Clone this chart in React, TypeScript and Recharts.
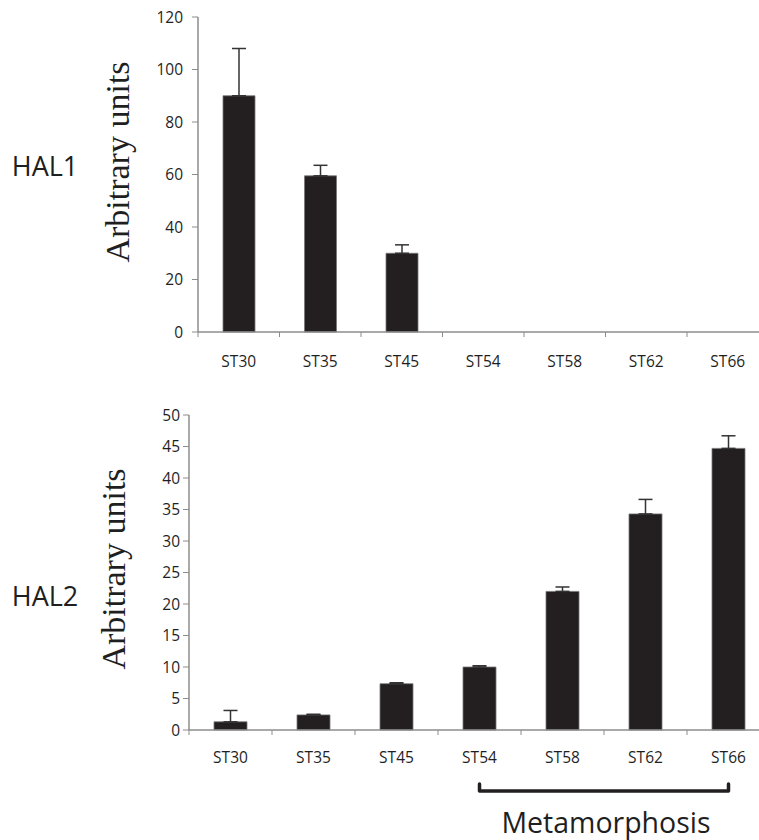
import React from 'react';
import { BarChart, Bar, XAxis, YAxis, ErrorBar } from 'recharts';

const stages = ['ST30', 'ST35', 'ST45', 'ST54', 'ST58', 'ST62', 'ST66'];
const hal1Values = [90, 59.5, 30, 0, 0, 0, 0];
const hal1Errors = [18, 4, 3.2, 0, 0, 0, 0];
const hal2Values = [1.3, 2.4, 7.35, 10, 22, 34.3, 44.7];
const hal2Errors = [1.8, 0.1, 0.15, 0.2, 0.7, 2.3, 2.0];
const hal1Ticks = [0, 20, 40, 60, 80, 100, 120];
const hal2Ticks = [0, 5, 10, 15, 20, 25, 30, 35, 40, 45, 50];

const hal1Data = stages.map((stage, i) => ({
  stage,
  value: hal1Values[i],
  err: hal1Values[i] > 0 ? [0, hal1Errors[i]] : null,
}));
const hal2Data = stages.map((stage, i) => ({
  stage,
  value: hal2Values[i],
  err: [0, hal2Errors[i]],
}));

const TICK_FONT = '"Open Sans", sans-serif';
const AXIS_GRAY = '#8c8c8c';
const TEXT = '#1f1f1f';
const BAR = '#231f20';

// category tick: label in the middle, tick mark at the left boundary of the band
const makeTick = (step: number, labelOffset: number) => (props: any) => {
  const { x, y, payload, index } = props;
  return (
    <g>
      <line x1={x - step / 2} x2={x - step / 2} y1={y} y2={y + 5} stroke={AXIS_GRAY} />
      {index === stages.length - 1 && (
        <line x1={x + step / 2} x2={x + step / 2} y1={y} y2={y + 5} stroke={AXIS_GRAY} />
      )}
      <text x={x} y={y + labelOffset} textAnchor="middle" dominantBaseline="central"
        fontSize={15.5} fontFamily={TICK_FONT} fill={TEXT}>
        {payload.value}
      </text>
    </g>
  );
};

const CHART_W = 780;

// top chart layout
const T = { plotLeft: 198, plotTop: 17, plotBottom: 332, step: 81.5, height: 380 };
// bottom chart layout (chart box starts at y=390)
const B = { top: 390, plotLeft: 189, plotTop: 415, plotBottom: 730, step: 83, height: 380 };

const App = () => {
  const tRight = CHART_W - (T.plotLeft + T.step * 7);
  const bRight = CHART_W - (B.plotLeft + B.step * 7);
  const b54 = B.plotLeft + B.step * 3.5;
  const b66 = B.plotLeft + B.step * 6.5;

  return (
    <div style={{ position: 'absolute', left: 0, top: 0, width: 759, height: 840, overflow: 'hidden', background: '#fff' }}>
      <div style={{ position: 'absolute', left: 0, top: 0 }}>
        <BarChart width={CHART_W} height={T.height} data={hal1Data}
          margin={{ top: T.plotTop, right: tRight, left: T.plotLeft - 60, bottom: T.height - T.plotBottom - 40 }}>
          <XAxis dataKey="stage" height={40} axisLine={{ stroke: AXIS_GRAY, strokeWidth: 1.5 }}
            tickLine={false} tickSize={0} tickMargin={0} interval={0} tick={makeTick(T.step, 29)} />
          <YAxis width={60} domain={[0, 120]} ticks={hal1Ticks} interval={0}
            axisLine={{ stroke: AXIS_GRAY, strokeWidth: 1.5 }} tickLine={{ stroke: AXIS_GRAY }}
            tickSize={6} tickMargin={9}
            tick={{ fontSize: 15.5, fontFamily: TICK_FONT, fill: TEXT }} />
          <Bar dataKey="value" fill={BAR} stroke="#777" strokeWidth={0.8} barSize={32} isAnimationActive={false}>
            <ErrorBar dataKey="err" direction="y" width={7} stroke="#333" strokeWidth={1.5} />
          </Bar>
        </BarChart>
      </div>

      <div style={{ position: 'absolute', left: 0, top: B.top }}>
        <BarChart width={CHART_W} height={B.height} data={hal2Data}
          margin={{ top: B.plotTop - B.top, right: bRight, left: B.plotLeft - 60, bottom: B.height - (B.plotBottom - B.top) - 35 }}>
          <XAxis dataKey="stage" height={35} axisLine={{ stroke: AXIS_GRAY, strokeWidth: 1.5 }}
            tickLine={false} tickSize={0} tickMargin={0} interval={0} tick={makeTick(B.step, 27)} />
          <YAxis width={60} domain={[0, 50]} ticks={hal2Ticks} interval={0}
            axisLine={{ stroke: AXIS_GRAY, strokeWidth: 1.5 }} tickLine={{ stroke: AXIS_GRAY }}
            tickSize={6} tickMargin={3}
            tick={{ fontSize: 15.5, fontFamily: TICK_FONT, fill: TEXT }} />
          <Bar dataKey="value" fill={BAR} stroke="#777" strokeWidth={0.8} barSize={33} isAnimationActive={false}>
            <ErrorBar dataKey="err" direction="y" width={7} stroke="#333" strokeWidth={1.5} />
          </Bar>
        </BarChart>
      </div>

      {/* side labels */}
      <svg style={{ position: 'absolute', left: 0, top: 0 }} width={759} height={840}>
        <text x={45} y={165} textAnchor="middle" dominantBaseline="central"
          fontSize={27} fontFamily={TICK_FONT} fill={TEXT}>HAL1</text>
        <text x={45} y={595} textAnchor="middle" dominantBaseline="central"
          fontSize={27} fontFamily={TICK_FONT} fill={TEXT}>HAL2</text>
        <text transform="translate(129,162) rotate(-90)" textAnchor="middle"
          fontSize={34} fontFamily='"Liberation Serif", serif' fill={TEXT}>Arbitrary units</text>
        <text transform="translate(125,569) rotate(-90)" textAnchor="middle"
          fontSize={34} fontFamily='"Liberation Serif", serif' fill={TEXT}>Arbitrary units</text>
        {/* metamorphosis bracket, spanning ST54..ST66 */}
        <path d={`M ${b54} 784 L ${b54} 791 L ${b66} 791 L ${b66} 784`} fill="none"
          stroke={BAR} strokeWidth={3.5} strokeLinejoin="round" strokeLinecap="round" />
        <text x={(b54 + b66) / 2 + 2} y={822} textAnchor="middle" dominantBaseline="central"
          fontSize={28.5} fontFamily={TICK_FONT} fill={TEXT}>Metamorphosis</text>
      </svg>
    </div>
  );
};

export default App;
